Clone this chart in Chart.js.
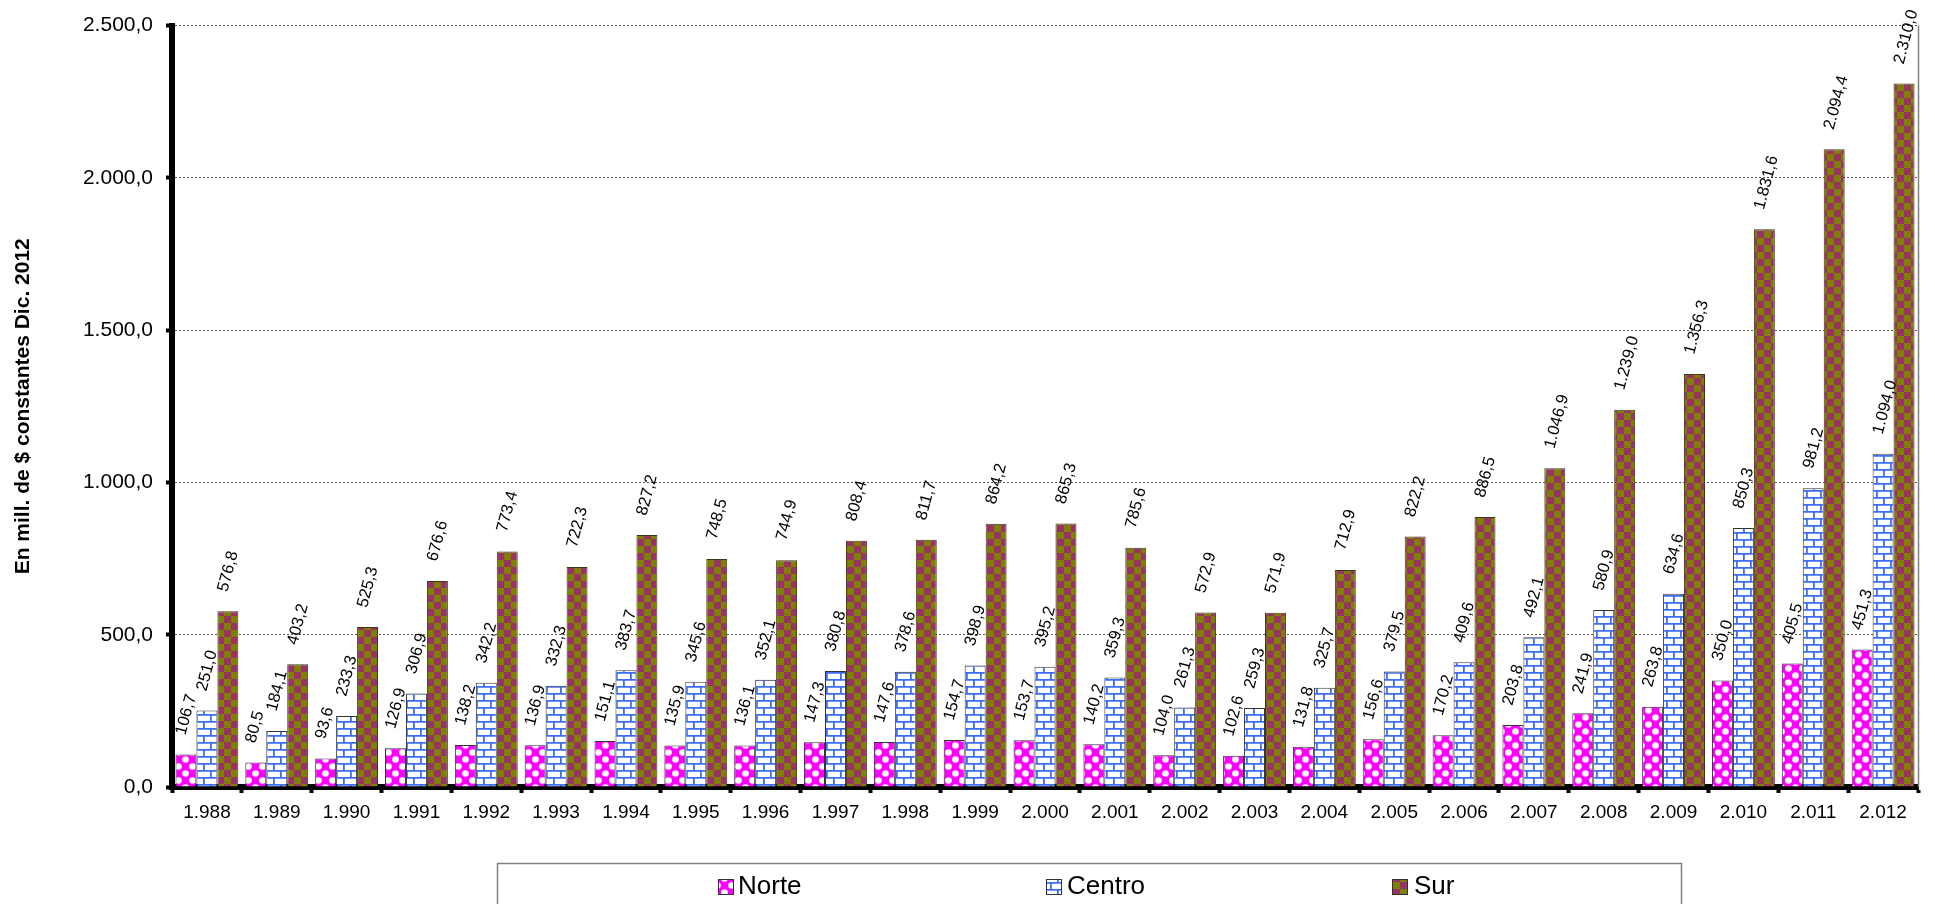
<!DOCTYPE html>
<html>
<head>
<meta charset="utf-8">
<script src="https://cdn.jsdelivr.net/npm/chart.js@4.4.1/dist/chart.umd.min.js"></script>
<style>
  html, body { margin: 0; padding: 0; background: #ffffff; }
  #wrap { width: 1935px; height: 904px; }
</style>
</head>
<body>
<div id="wrap"><canvas id="c" width="1935" height="904"></canvas></div>
<script>
// ---- data ----
const categories = ['1.988','1.989','1.990','1.991','1.992','1.993','1.994','1.995','1.996','1.997','1.998','1.999','2.000','2.001','2.002','2.003','2.004','2.005','2.006','2.007','2.008','2.009','2.010','2.011','2.012'];
const seriesNames = ['Norte', 'Centro', 'Sur'];
const norte  = [106.7, 80.5, 93.6, 126.9, 138.2, 136.9, 151.1, 135.9, 136.1, 147.3, 147.6, 154.7, 153.7, 140.2, 104.0, 102.6, 131.8, 156.6, 170.2, 203.8, 241.9, 263.8, 350.0, 405.5, 451.3];
const centro = [251.0, 184.1, 233.3, 306.9, 342.2, 332.3, 383.7, 345.6, 352.1, 380.8, 378.6, 398.9, 395.2, 359.3, 261.3, 259.3, 325.7, 379.5, 409.6, 492.1, 580.9, 634.6, 850.3, 981.2, 1094.0];
const sur    = [576.8, 403.2, 525.3, 676.6, 773.4, 722.3, 827.2, 748.5, 744.9, 808.4, 811.7, 864.2, 865.3, 785.6, 572.9, 571.9, 712.9, 822.2, 886.5, 1046.9, 1239.0, 1356.3, 1831.6, 2094.4, 2310.0];
const yMin = 0, yMax = 2500, yStep = 500;
const yTitle = 'En mill. de $ constantes Dic. 2012';

const FONT = "'Liberation Sans', Arial, sans-serif";

function fmt(v) {
  const s = Math.abs(v).toFixed(1);
  let [i, d] = s.split('.');
  i = i.replace(/\B(?=(\d{3})+(?!\d))/g, '.');
  return (v < 0 ? '-' : '') + i + ',' + d;
}

// ---- patterns ----
function makeTile(w, h, draw) {
  const cv = document.createElement('canvas');
  cv.width = w; cv.height = h;
  const g = cv.getContext('2d');
  draw(g, w, h);
  return document.getElementById('c').getContext('2d').createPattern(cv, 'repeat');
}
const patNorte = makeTile(14, 14, (g, w, h) => {
  g.fillStyle = '#FF00FF'; g.fillRect(0, 0, w, h);
  g.fillStyle = '#FFFFFF';
  [[3.5, 3.5], [10.5, 10.5]].forEach(([x, y]) => {
    g.beginPath(); g.arc(x, y, 3.3, 0, Math.PI * 2); g.fill();
  });
});
const patCentro = makeTile(14, 14, (g, w, h) => {
  g.fillStyle = '#FFFFFF'; g.fillRect(0, 0, w, h);
  g.strokeStyle = '#3C6EF5'; g.lineWidth = 1.8;
  g.beginPath();
  g.moveTo(0, 0.9); g.lineTo(w, 0.9);
  g.moveTo(0, 7.9); g.lineTo(w, 7.9);
  g.moveTo(0.9, 0); g.lineTo(0.9, 7);
  g.moveTo(7.9, 7); g.lineTo(7.9, 14);
  g.stroke();
});
const patSur = makeTile(14, 14, (g, w, h) => {
  g.fillStyle = '#808000'; g.fillRect(0, 0, w, h);
  g.fillStyle = '#993366';
  g.fillRect(0, 0, 7, 7); g.fillRect(7, 7, 7, 7);
});
const patterns = [patNorte, patCentro, patSur];

// ---- plugins ----
const valueLabels = {
  id: 'valueLabels',
  afterDatasetsDraw(chart) {
    const ctx = chart.ctx;
    ctx.save();
    ctx.font = '16.5px ' + FONT;
    ctx.fillStyle = '#000';
    ctx.textAlign = 'left';
    ctx.textBaseline = 'middle';
    chart.data.datasets.forEach((ds, di) => {
      const meta = chart.getDatasetMeta(di);
      meta.data.forEach((el, i) => {
        ctx.save();
        ctx.translate(el.x - 5, el.y - 20);
        ctx.rotate(-75 * Math.PI / 180);
        ctx.fillText(fmt(ds.data[i]), 0, 0);
        ctx.restore();
      });
    });
    ctx.restore();
  }
};

const frameAndLegend = {
  id: 'frameAndLegend',
  afterDraw(chart) {
    const ctx = chart.ctx;
    const a = chart.chartArea;
    ctx.save();
    // right frame line of plot area
    ctx.strokeStyle = '#808080';
    ctx.lineWidth = 1.5;
    ctx.beginPath();
    ctx.moveTo(a.right + 0.5, a.top);
    ctx.lineTo(a.right + 0.5, a.bottom);
    ctx.stroke();
    // legend box
    ctx.strokeStyle = '#808080';
    ctx.lineWidth = 1.5;
    ctx.strokeRect(497.5, 863.5, 1184, 60);
    const items = [
      { mx: 718, tx: 738 },
      { mx: 1046, tx: 1067 },
      { mx: 1392, tx: 1414 }
    ];
    ctx.font = '26px ' + FONT;
    ctx.textBaseline = 'middle';
    ctx.textAlign = 'left';
    chart.data.datasets.forEach((ds, i) => {
      const it = items[i];
      ctx.fillStyle = ds.backgroundColor;
      ctx.fillRect(it.mx, 879, 15, 15);
      ctx.strokeStyle = '#333';
      ctx.lineWidth = 1;
      ctx.strokeRect(it.mx + 0.5, 879.5, 15, 15);
      ctx.fillStyle = '#000';
      ctx.fillText(ds.label, it.tx, 887);
    });
    ctx.restore();
  }
};

// ---- chart ----
const seriesValues = [norte, centro, sur];
new Chart(document.getElementById('c'), {
  type: 'bar',
  data: {
    labels: categories,
    datasets: seriesNames.map((name, i) => ({
      label: name,
      data: seriesValues[i],
      backgroundColor: patterns[i],
      borderColor: i === 2 ? '#3a3a1a' : '#333333',
      borderWidth: 1,
      categoryPercentage: 0.9,
      barPercentage: 1.0
    }))
  },
  options: {
    responsive: false,
    animation: false,
    devicePixelRatio: 1,
    layout: { padding: { left: 0, right: 17, top: 23.5, bottom: 0 } },
    plugins: {
      legend: { display: false },
      tooltip: { enabled: false },
      title: { display: false }
    },
    scales: {
      x: {
        z: 1,
        grid: {
          display: true,
          drawOnChartArea: false,
          color: 'rgba(0,0,0,0)',
          tickColor: '#000',
          tickLength: 6,
          tickWidth: 4,
          offset: true
        },
        border: { display: true, color: '#000', width: 6 },
        ticks: {
          color: '#000',
          font: { family: FONT, size: 19 },
          padding: 8,
          maxRotation: 0,
          autoSkip: false
        },
        afterFit(scale) { scale.height = 117; }
      },
      y: {
        min: yMin,
        max: yMax,
        grid: {
          color: '#555',
          lineWidth: 1,
          tickColor: '#000',
          tickLength: 6,
          tickWidth: 4,
          tickBorderDash: []
        },
        border: { display: true, color: '#000', width: 6, dash: [2, 2] },
        ticks: {
          stepSize: yStep,
          color: '#000',
          font: { family: FONT, size: 21 },
          padding: 13,
          callback: (v) => fmt(v)
        },
        title: {
          display: true,
          text: yTitle,
          color: '#000',
          font: { family: FONT, size: 21, weight: 'bold' },
          padding: { top: 11, bottom: 0 }
        },
        afterFit(scale) { scale.width = 172; }
      }
    }
  },
  plugins: [valueLabels, frameAndLegend]
});
</script>
</body>
</html>
